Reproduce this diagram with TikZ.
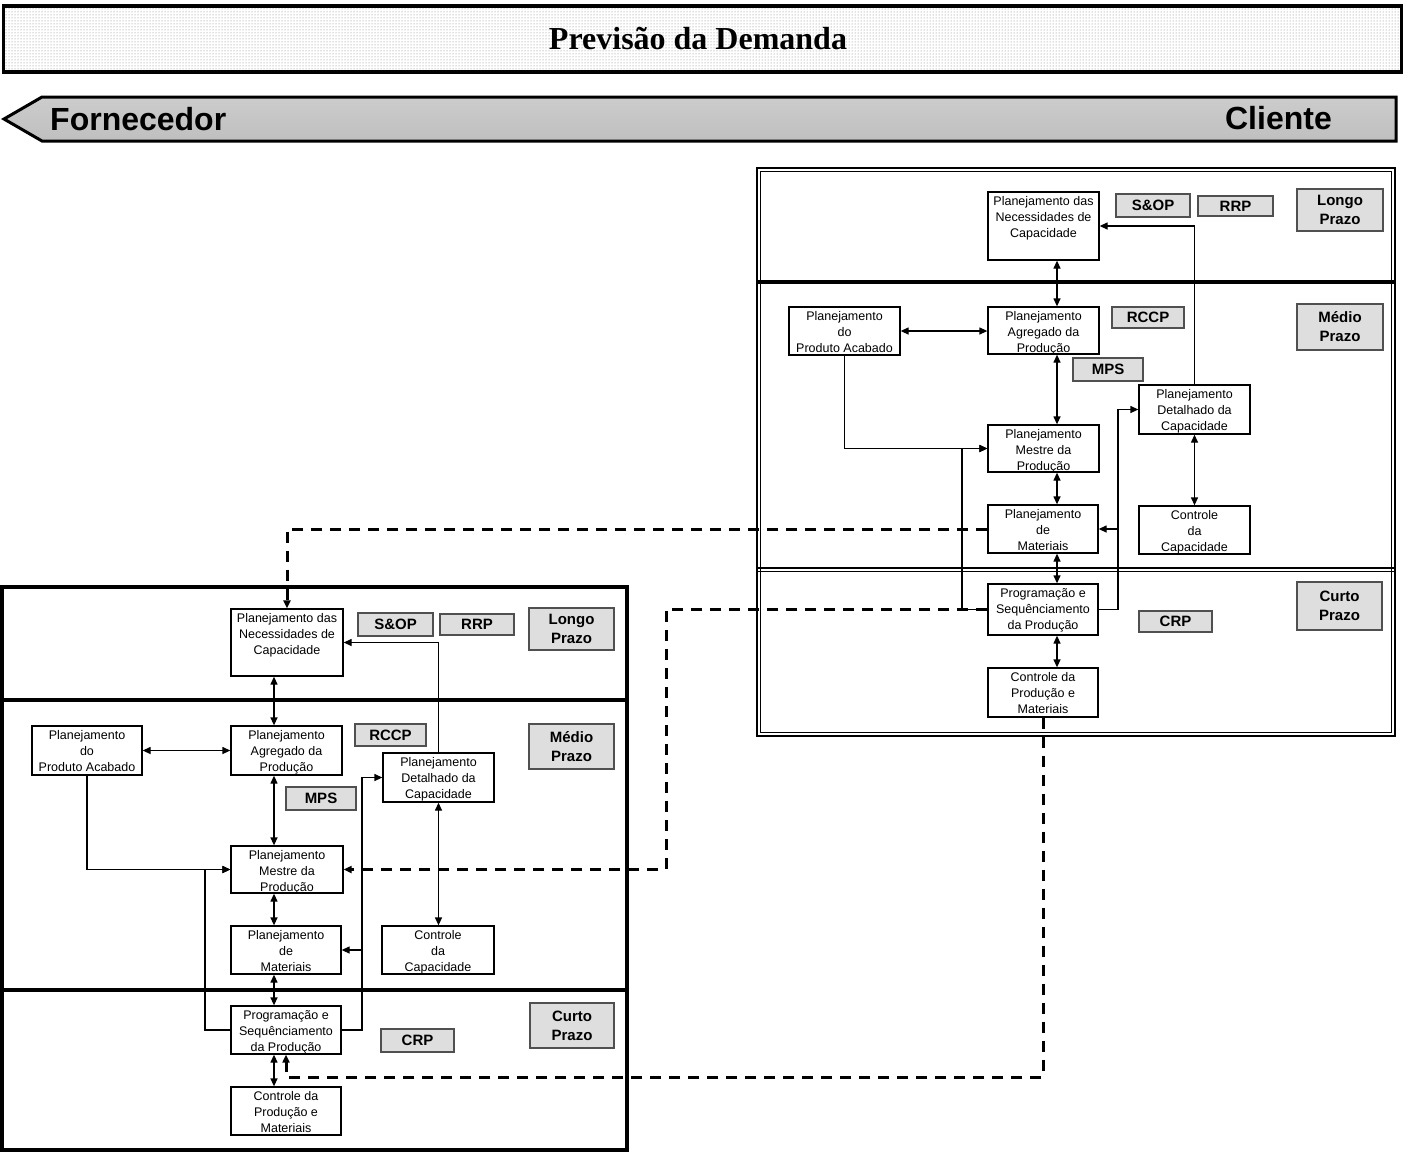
\documentclass[tikz,border=0pt]{standalone}
\usepackage{fontspec}
\setmainfont{Liberation Serif}
\setsansfont{Liberation Sans}
\usetikzlibrary{arrows.meta,patterns,fit,calc}

\tikzset{
  box/.style={draw=black, line width=1.3pt, fill=white, inner sep=0pt},
  boxtxt/.style={font=\sffamily\fontsize{12.5}{16}\selectfont, inner sep=0pt, anchor=base},
  tagbox/.style={draw={rgb,255:red,80;green,80;blue,80}, line width=1.3pt,
                 fill={rgb,255:red,222;green,222;blue,222}, inner sep=0pt},
  tagtxt/.style={font=\sffamily\bfseries\fontsize{15}{19}\selectfont, align=center, inner sep=0pt},
  link/.style={line width=1.3pt},
  tip/.style={-{Triangle[length=8pt,width=7pt]}},
  both/.style={{Triangle[length=8pt,width=7pt]}-{Triangle[length=8pt,width=7pt]}},
  feed/.style={line width=3pt, dash pattern=on 11pt off 8pt},
  panel/.style={line width=4pt},
}

% process block: name, x1, y1, x2, y2, lines
\newcommand\flowbox[6]{%
  \node[box, fit={(#2,#3)(#4,#5)}] (#1) {};
  \node[boxtxt] (#1-t) at ($(#1.north)+(0,14.5)$)
    {\begin{tabular}[t]{@{}c@{}}#6\end{tabular}};
}
% grey method / horizon tag: name, x1, y1, x2, y2, text
\newcommand\tagbox[6]{%
  \node[tagbox, fit={(#2,#3)(#4,#5)}] (#1) {};
  \node[tagtxt] (#1-t) at (#1.center) {#6};
}

\begin{document}
\begin{tikzpicture}[x=1pt, y=-1pt]
\useasboundingbox (0,0) rectangle (1405,1152);
\fill[white] (0,0) rectangle (1405,1152);

% demand forecast header
\draw[line width=3.5pt, pattern=dots, pattern color=gray] (3.5,6) rectangle (1401.5,72);
\node[font=\bfseries\fontsize{32}{32}\selectfont, inner sep=0pt, anchor=base] (title) at (698,49) {Previsão da Demanda};

% supplier / customer banner
\shadedraw[line width=3pt, top color=gray!40, middle color=gray!4, bottom color=gray!50]
  (42,97) -- (1396,97) -- (1396,141) -- (42,141) -- (4,119) -- cycle;
\node[font=\sffamily\bfseries\fontsize{32}{32}\selectfont, inner sep=0pt, anchor=base west] (forn) at (50,130) {Fornecedor};
\node[font=\sffamily\bfseries\fontsize{32}{32}\selectfont, inner sep=0pt, anchor=base east] (cli) at (1332,129) {Cliente};

% ---------------- panels ----------------
% right panel (double frame)
\draw[line width=2.5pt] (757,168) rectangle (1395,736);
\draw[line width=1pt] (760.5,171.5) rectangle (1391.5,732.5);
\draw[line width=4pt] (757,282) -- (1395,282);
\draw[line width=2pt] (757,568) -- (1395,568);
\draw[line width=1pt] (757,571.5) -- (1395,571.5);
% left panel
\draw[panel] (2,587) rectangle (627,1150);
\draw[panel] (2,700) -- (627,700);
\draw[panel] (2,990) -- (627,990);

% ---------------- right panel blocks ----------------
\flowbox{rnc}{988}{192}{1099}{260}{Planejamento das\\Necessidades de\\Capacidade}
\flowbox{rpa}{789}{307}{900}{355}{Planejamento\\do\\Produto Acabado}
\flowbox{rag}{988}{307}{1099}{354}{Planejamento\\Agregado da\\Produção}
\flowbox{rdc}{1139}{385}{1250}{434}{Planejamento\\Detalhado da\\Capacidade}
\flowbox{rme}{988}{425}{1099}{472}{Planejamento\\Mestre da\\Produção}
\flowbox{rma}{988}{505}{1098}{553}{Planejamento\\de\\Materiais}
\flowbox{rcc}{1139}{506}{1250}{554}{Controle\\da\\Capacidade}
\flowbox{rps}{988}{584}{1098}{635}{Programação e\\Sequênciamento\\da Produção}
\flowbox{rcp}{988}{668}{1098}{717}{Controle da\\Produção e\\Materiais}

\tagbox{rsop}{1116}{194}{1190}{217}{S\&OP}
\tagbox{rrrp}{1198}{196}{1273}{216}{RRP}
\tagbox{rlp}{1297}{189}{1383}{231}{Longo\\Prazo}
\tagbox{rrccp}{1112}{307}{1184}{328}{RCCP}
\tagbox{rmp}{1297}{304}{1383}{350}{Médio\\Prazo}
\tagbox{rmps}{1073}{358}{1143}{381}{MPS}
\tagbox{rcrp}{1139}{611}{1212}{632}{CRP}
\tagbox{rcup}{1297}{582}{1382}{630}{Curto\\Prazo}

% ---------------- left panel blocks ----------------
\flowbox{lnc}{231}{609}{343}{676}{Planejamento das\\Necessidades de\\Capacidade}
\flowbox{lpa}{32}{726}{142}{775}{Planejamento\\do\\Produto Acabado}
\flowbox{lag}{231}{726}{342}{775}{Planejamento\\Agregado da\\Produção}
\flowbox{ldc}{383}{753}{494}{802}{Planejamento\\Detalhado da\\Capacidade}
\flowbox{lme}{231}{846}{343}{893}{Planejamento\\Mestre da\\Produção}
\flowbox{lma}{231}{926}{341}{974}{Planejamento\\de\\Materiais}
\flowbox{lcc}{382}{926}{494}{974}{Controle\\da\\Capacidade}
\flowbox{lps}{231}{1006}{341}{1054}{Programação e\\Sequênciamento\\da Produção}
\flowbox{lcp}{231}{1087}{341}{1135}{Controle da\\Produção e\\Materiais}

\tagbox{lsop}{358}{613}{433}{636}{S\&OP}
\tagbox{lrrp}{440}{614}{514}{635}{RRP}
\tagbox{llp}{529}{608}{614}{650}{Longo\\Prazo}
\tagbox{lrccp}{355}{724}{426}{746}{RCCP}
\tagbox{lmp}{529}{724}{614}{769}{Médio\\Prazo}
\tagbox{lmps}{286}{787}{356}{810}{MPS}
\tagbox{lcrp}{381}{1029}{454}{1052}{CRP}
\tagbox{lcup}{530}{1003}{614}{1048}{Curto\\Prazo}

% ---------------- connectors: right panel ----------------
\coordinate (rcol) at (1057,0);
\coordinate (rfl) at (962,0);
\coordinate (rfr) at (1118,0);
\draw[link,both] (rnc.south -| rcol) -- (rag.north -| rcol);
\draw[link,both] (rpa.east) -- (rpa.east -| rag.west);
\draw[link,both] (rag.south -| rcol) -- (rme.north -| rcol);
\draw[link,both] (rme.south -| rcol) -- (rma.north -| rcol);
\draw[link,both] (rma.south -| rcol) -- (rps.north -| rcol);
\draw[link,both] (rps.south -| rcol) -- (rcp.north -| rcol);
\draw[link,tip] (rdc.north) |- (rnc.east);
\draw[link,both] (rdc.south) -- (rdc.south |- rcc.north);
\draw[link,tip] (rpa.south) |- (rme.west);
\draw[link,tip] (rps.west) -| (rfl |- rme.west) -- (rme.west);
\draw[link,tip] (rps.east) -| (rfr |- rdc.west) -- (rdc.west);
\draw[link,tip] (rfr |- rma.east) -- (rma.east);

% ---------------- connectors: left panel ----------------
\coordinate (lcol) at (274,0);
\coordinate (lfl) at (205,0);
\coordinate (lfr) at (362,0);
\draw[link,both] (lnc.south -| lcol) -- (lag.north -| lcol);
\draw[link,both] (lpa.east) -- (lpa.east -| lag.west);
\draw[link,both] (lag.south -| lcol) -- (lme.north -| lcol);
\draw[link,both] (lme.south -| lcol) -- (lma.north -| lcol);
\draw[link,both] (lma.south -| lcol) -- (lps.north -| lcol);
\draw[link,both] (lps.south -| lcol) -- (lcp.north -| lcol);
\draw[link,tip] (ldc.north) |- (lnc.east);
\draw[link,both] (ldc.south) -- (ldc.south |- lcc.north);
\draw[link,tip] (lpa.south) |- (lme.west);
\draw[link,tip] (lps.west) -| (lfl |- lme.west) -- (lme.west);
\draw[link,tip] (lps.east) -| (lfr |- ldc.west) -- (ldc.west);
\draw[link,tip] (lfr |- lma.east) -- (lma.east);

% ---------------- dashed links between the two levels ----------------
\coordinate (dcol) at (666,0);
\coordinate (drow) at (0,1077);
\draw[feed,tip] (rma.west) -| (lnc.north);
\draw[feed,tip] (rps.west) -| (dcol |- lme.east) -- (lme.east);
\draw[feed,tip] (rcp.south) |- (lps.south |- drow) -- (lps.south);

\end{tikzpicture}
\end{document}
